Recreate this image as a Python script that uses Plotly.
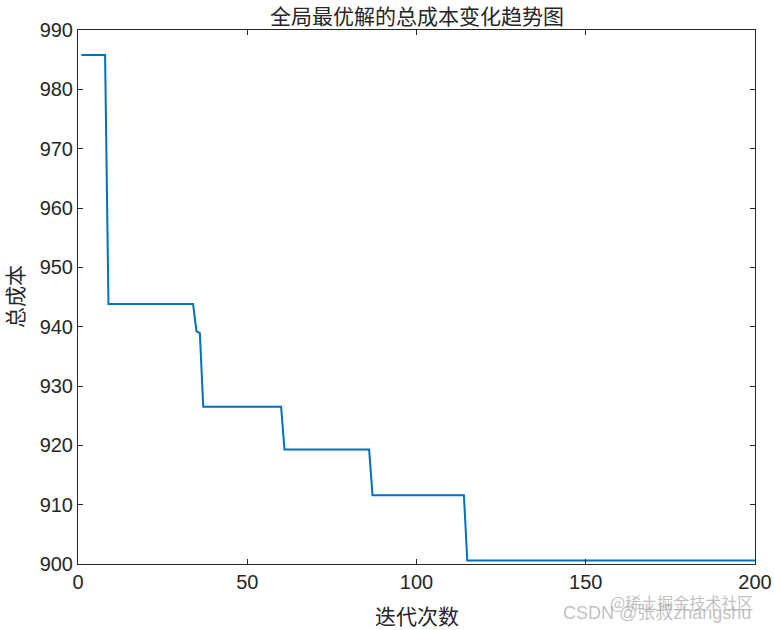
import plotly.graph_objects as go

# iteration -> best total cost (step changes)
change_iters = [1, 9, 35, 36, 37, 61, 87, 115]
change_vals = [985.8, 943.8, 939.2, 938.9, 926.5, 919.3, 911.6, 900.6]
n_iter = 200

iters = list(range(1, n_iter + 1))
costs = []
k = 0
for it in iters:
    while k + 1 < len(change_iters) and it >= change_iters[k + 1]:
        k += 1
    costs.append(change_vals[k])

x_ticks = [0, 50, 100, 150, 200]
y_ticks = [900, 910, 920, 930, 940, 950, 960, 970, 980, 990]

title_text = "全局最优解的总成本变化趋势图"
x_label = "迭代次数"
y_label = "总成本"

INK = "#262626"
CJK = "Noto Sans CJK SC"

fig = go.Figure()
fig.add_trace(go.Scatter(x=iters, y=costs, mode="lines",
                         line=dict(color="#0072BD", width=2), hoverinfo="skip"))

axis_common = dict(showgrid=False, zeroline=False, showline=True, linecolor=INK,
                   linewidth=1, mirror="ticks", ticks="inside", ticklen=5,
                   tickcolor=INK, automargin=False,
                   tickfont=dict(family="Liberation Sans, Arial", size=20, color=INK))

fig.update_layout(
    width=774, height=630,
    margin=dict(l=78, r=19, t=30, b=66),
    paper_bgcolor="white", plot_bgcolor="white",
    showlegend=False,
    xaxis=dict(range=[0, 200], tickvals=x_ticks, **axis_common),
    yaxis=dict(range=[900, 990], tickvals=y_ticks, **axis_common),
)

# title and axis titles placed as annotations
fig.add_annotation(text=title_text, xref="paper", yref="paper", x=0.5, y=1.0, yshift=15,
                   xanchor="center", yanchor="middle", showarrow=False, borderpad=0,
                   font=dict(family=CJK, size=21, color=INK))
fig.add_annotation(text=x_label, xref="paper", yref="paper", x=0.5, y=0.0, yshift=-51,
                   xanchor="center", yanchor="middle", showarrow=False, borderpad=0,
                   font=dict(family=CJK, size=21, color=INK))
fig.add_annotation(text=y_label, xref="paper", yref="paper", x=0.0, y=0.5, xshift=-64,
                   xanchor="center", yanchor="middle", showarrow=False, textangle=-90,
                   borderpad=0,
                   font=dict(family=CJK, size=21, color=INK))

# watermarks
fig.add_annotation(text="@稀土掘金技术社区", xref="paper", yref="paper", x=1.0, y=0.0,
                   xshift=0, yshift=-38,
                   xanchor="right", yanchor="middle", showarrow=False,
                   font=dict(family=CJK, size=16, color="rgba(150,150,150,0.6)"))
fig.add_annotation(text="CSDN @张叔zhangshu", xref="paper", yref="paper", x=1.0, y=0.0,
                   xshift=-2, yshift=-49,
                   xanchor="right", yanchor="middle", showarrow=False,
                   font=dict(family="Liberation Sans, Noto Sans CJK SC", size=18,
                             color="rgba(150,150,150,0.6)"))

fig.write_html("out.html", config={"displayModeBar": False},
               post_script="document.body.style.margin='0';document.body.style.overflow='hidden';")
